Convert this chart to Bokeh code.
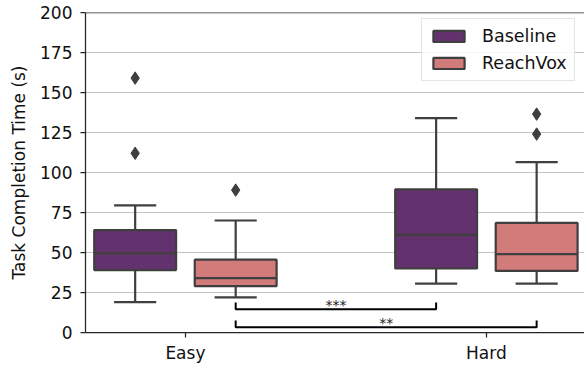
from bokeh.plotting import figure
from bokeh.models import (ColumnDataSource, Range1d, FixedTicker, Span, Legend, LegendItem)
from bokeh.embed import file_html
from bokeh.resources import INLINE
from bokeh.core.properties import value

# ---------------- data ----------------
categories = ["Easy", "Hard"]
groups = ["Baseline", "ReachVox"]
colors = ["#63326e", "#d27b7b"]

baseline_low = [19, 30.5]
baseline_q1 = [39, 40]
baseline_median = [49.5, 61]
baseline_q3 = [64, 89.5]
baseline_high = [79.5, 134]
baseline_outliers = [[112, 159], []]

reachvox_low = [22, 30.5]
reachvox_q1 = [29, 38.5]
reachvox_median = [34, 49]
reachvox_q3 = [45.5, 68.5]
reachvox_high = [70, 106.5]
reachvox_outliers = [[89], [124, 136.5]]

sig_labels = ["***", "**"]
sig_start = [("Easy", "ReachVox"), ("Easy", "ReachVox")]
sig_end = [("Hard", "Baseline"), ("Hard", "ReachVox")]
sig_y = [14.6, 3.3]
sig_tick = 4.2

y_ticks = [0, 25, 50, 75, 100, 125, 150, 175, 200]

# ---------------- layout constants ----------------
FONT = "DejaVu Sans"
EDGE = "#3f3f3f"
offsets = {"Baseline": -0.167, "ReachVox": 0.167}
box_w = 0.272
cap_w = 0.14

def xpos(cat, grp):
    return categories.index(cat) + offsets[grp]

p = figure(width=584, height=365,
           x_range=Range1d(-0.332, 1.326), y_range=Range1d(0, 200),
           output_backend="svg", toolbar_location=None,
           min_border_left=85, min_border_right=0, min_border_top=12, min_border_bottom=33)
p.outline_line_color = None
p.xgrid.visible = False
p.ygrid.grid_line_color = "#c4c4c4"
p.ygrid.grid_line_width = 1
p.ygrid.ticker = FixedTicker(ticks=y_ticks)
p.background_fill_color = "white"

stats = {
    "Baseline": (baseline_low, baseline_q1, baseline_median, baseline_q3, baseline_high, baseline_outliers),
    "ReachVox": (reachvox_low, reachvox_q1, reachvox_median, reachvox_q3, reachvox_high, reachvox_outliers),
}

LW = 2.2
box_renderers = {}
for grp, col in zip(groups, colors):
    lo, q1, med, q3, hi, outs = stats[grp]
    xs = [xpos(c, grp) for c in categories]
    src = ColumnDataSource(dict(
        x=xs, left=[x - box_w / 2 for x in xs], right=[x + box_w / 2 for x in xs],
        cl=[x - cap_w / 2 for x in xs], cr=[x + cap_w / 2 for x in xs],
        lo=lo, q1=q1, med=med, q3=q3, hi=hi))
    # whiskers
    p.segment(x0="x", y0="q3", x1="x", y1="hi", source=src, line_color=EDGE, line_width=LW)
    p.segment(x0="x", y0="q1", x1="x", y1="lo", source=src, line_color=EDGE, line_width=LW)
    p.segment(x0="cl", y0="hi", x1="cr", y1="hi", source=src, line_color=EDGE, line_width=LW)
    p.segment(x0="cl", y0="lo", x1="cr", y1="lo", source=src, line_color=EDGE, line_width=LW)
    r = p.quad(left="left", right="right", bottom="q1", top="q3", source=src,
               fill_color=col, line_color=EDGE, line_width=LW)
    box_renderers[grp] = r
    p.segment(x0="left", y0="med", x1="right", y1="med", source=src, line_color=EDGE, line_width=LW)
    ox, oy = [], []
    for c, vals in zip(categories, outs):
        for v in vals:
            ox.append(xpos(c, grp))
            oy.append(v)
    p.scatter(x=ox, y=oy, marker="diamond", size=12.5, fill_color=EDGE, line_color=EDGE)

# significance brackets
bx, by, tx, ty = [], [], [], []
for (c0, g0), (c1, g1), yv, lab in zip(sig_start, sig_end, sig_y, sig_labels):
    x0 = xpos(c0, g0)
    x1 = xpos(c1, g1)
    bx.append([x0, x0, x1, x1])
    by.append([yv + sig_tick, yv, yv, yv + sig_tick])
    tx.append((x0 + x1) / 2)
    ty.append(yv + 2.6)
p.multi_line(xs=bx, ys=by, line_color="black", line_width=2)
p.text(x=tx, y=ty, text=sig_labels, text_font=value(FONT), text_font_size=value("14px"),
       text_align="center", text_baseline="alphabetic", text_color="#222222")

# top spine
p.add_layout(Span(location=200, dimension="width", line_color="#262626", line_width=1.25))

# axes
for ax in (p.xaxis[0], p.yaxis[0]):
    ax.axis_line_color = "#262626"
    ax.axis_line_width = 1.25
    ax.major_tick_line_color = "#262626"
    ax.major_tick_line_width = 1.25
    ax.major_tick_in = 0
    ax.major_tick_out = 5
    ax.minor_tick_line_color = None
    ax.major_label_text_font = FONT
    ax.major_label_text_font_size = "17px"
    ax.major_label_text_color = "#111111"

p.xaxis.ticker = FixedTicker(ticks=[0, 1])
p.xaxis.major_label_overrides = {i: c for i, c in enumerate(categories)}
p.xaxis.major_label_standoff = 5

p.yaxis.ticker = FixedTicker(ticks=y_ticks)
p.yaxis.major_label_standoff = 8
p.yaxis.axis_label = "Task Completion Time (s)"
p.yaxis.axis_label_text_font = FONT
p.yaxis.axis_label_text_font_size = "17px"
p.yaxis.axis_label_text_font_style = "normal"
p.yaxis.axis_label_text_color = "#111111"
p.yaxis.axis_label_standoff = 8

legend = Legend(items=[LegendItem(label=g, renderers=[box_renderers[g]]) for g in groups],
                location=(336, 251))
legend.border_line_color = "#cccccc"
legend.border_line_width = 1
legend.background_fill_alpha = 0.85
legend.label_text_font = FONT
legend.label_text_font_size = "17.5px"
legend.label_text_color = "#111111"
legend.glyph_width = 39
legend.glyph_height = 14
legend.label_height = 20
legend.padding = 7
legend.spacing = 7
legend.label_standoff = 14
legend.margin = 0
p.add_layout(legend)

open("out.html", "w").write(file_html(p, INLINE))
